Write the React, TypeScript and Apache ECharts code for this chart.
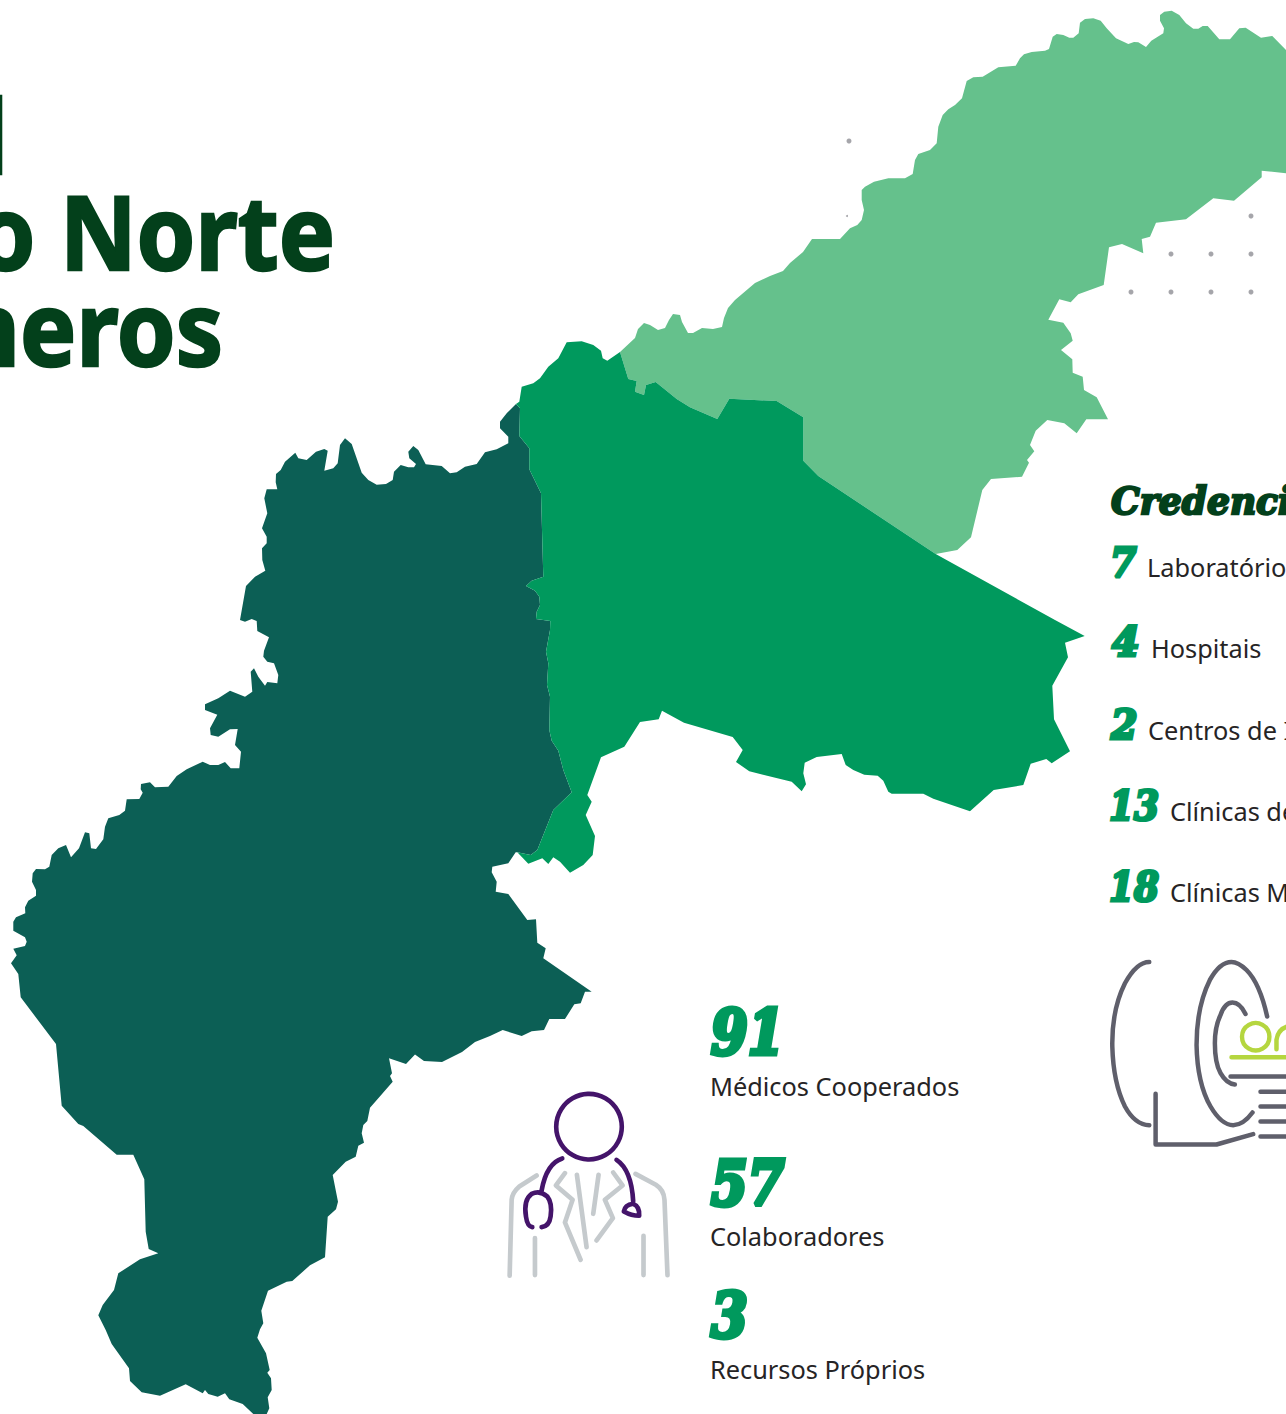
import React, { useEffect, useRef } from "react";
import * as echarts from "echarts";

const W = 1286;
const H = 1414;

// Region outlines (x, y from the top-left corner)
const lightOutline: number[][] = [
  [620,352],[635,338],[638,329],[644,323],[650,325],[658,330],[665,328],[669,320],[673,314],[680,315],[682,322],[688,333],[693,333],[702,328],[713,329],[722,327],[724,318],[728,308],[735,300],[755,283],[770,276],[783,271],[790,263],[803,252],[812,239],[840,239],
  [850,228.3],[857.3,225],[861.7,220],[864,210],[861.7,200],[861.7,190],[865,186.7],[874,181.7],[888.3,178.3],[905,178.3],[912.7,174],[915,160],[918.3,154],[930,150],[936.7,143.3],[938.3,126.7],[942.7,115],[948.3,109.3],[955,105],[962,98.3],[966.7,81],[973.3,77.3],[982.7,76.7],[998.3,67.3],[1015.7,65.7],[1020,58.3],[1024,54.3],[1031.7,52],[1045,50.7],[1049,49],[1052.7,36.7],[1056.7,34],[1063.3,35],[1069.3,37.7],[1073.3,37.7],[1078.7,33.3],[1080,22.7],[1085,19],[1093.3,18.3],[1100.7,20.7],[1106.7,28.3],[1116,38.3],[1128.3,44],[1134,42],[1138.3,42.3],[1146,47],[1151.3,40.7],[1163.3,33.3],[1164,28.3],[1160,20.7],[1160,15],[1164.3,11.7],[1171.7,10.7],[1179.3,15],[1186,23.3],[1193.3,28.7],[1198.3,28.7],[1202.7,26],[1207.7,26],[1219.3,39.3],[1230,39.3],[1239.3,28.3],[1245.7,27.7],[1261,37.7],[1272.3,36],[1286,50],[1300,64],
  [1300,175],[1286,173.3],[1261.7,170.7],[1261.7,177.3],[1234,200.7],[1213.3,198.3],[1186,219.3],[1156,222.7],[1150,236.7],[1141.7,239],[1143.3,253.3],[1122,244],[1109,247.3],[1103.7,285],[1078.3,294.3],[1070.7,302.3],[1059.3,299.3],[1048.3,319.7],[1063.3,322.7],[1070.7,333.3],[1072.7,340.7],[1061,350],[1072.3,359.3],[1072.7,372.7],[1082.7,376.7],[1084,390],[1096.7,397.3],[1108,419.3],[1086.3,419.3],[1076.7,433.3],[1064.3,423.3],[1047.3,420],[1035.7,430.7],[1030,445],[1034.3,451.3],[1027,460],[1029,462.7],[1022,476.7],[991,479],[982.3,490],[971,537.3],[957.3,550],[935.7,554],
  [818.3,476],[803.3,460.7],[803.3,417.3],[776.7,401],[729.3,398.7],[717.3,419],[690,407.3],[676.7,399],[655.7,382],[646,385],[644,395],[635,391.7],[636.7,381],[628.3,379],
];

const greenOutline: number[][] = [
  [516,404],[519.3,401.7],[521.7,386.7],[533.3,383.3],[540,378.3],[548.3,366.7],[558.3,358.3],[566.7,342.3],[581.7,341.3],[593.3,345],[601,350.7],[602.7,358.3],[607.3,360.7],[620,352],[628.3,379],[636.7,381],[635,391.7],[644,395],[646,385],[655.7,382],[676.7,399],[690,407.3],[717.3,419],[729.3,398.7],[776.7,401],[803.3,417.3],[803.3,460.7],[818.3,476],[935.7,554],
  [1055,620],[1084.7,636],[1065,642.7],[1068,657.3],[1052.3,685.7],[1054,719.3],[1070,751.3],[1051.7,763.3],[1046.3,759],[1030.7,763.7],[1023.3,785],[993.7,790],[970,811.3],[933.3,798.7],[923.3,793.7],[891.7,793.7],[888.3,791.7],[883.3,780.7],[877.7,775.7],[864.3,774.7],[853.3,770],[845.7,765],[841.7,754],[816.7,757],[804.7,762.7],[803.3,773.3],[806,784.3],[801.7,791.3],[791.7,781.7],[749.3,771.3],[736,762],[742.7,750],[732.7,737],[684,722.7],[662,710.7],[658.7,719.3],[640,722],[624.3,746.7],[601,757.3],[587.3,795],[591.7,801.7],[585.7,815],[595,836],[592.7,855],[583.3,865],[570,872.7],[560,861.7],[553.3,857.3],[548.3,864],[542.3,858.3],[528.3,863.7],[517.3,852.3],
  [530.7,855],[537.3,850],[553.3,810],[571.7,792.3],[563.3,770],[558.3,750.7],[551.7,740.7],[549.3,730],[550,696.7],[547,685],[548.3,663.3],[546,651.7],[550,630],[550.3,621],[536,619],[536.7,611.7],[540,605],[539.3,596.7],[535,590.7],[526,586],[531.7,580.7],[543.3,576.7],[541,493.3],[529.3,469.3],[529.3,448.3],[519.3,436],[520,408.3],
];

const tealOutline: number[][] = [
  [516,404],[506.7,413.3],[500,421.7],[500,428.3],[508.3,436.7],[508.3,443.3],[496.7,449.3],[485,452.3],[476.7,464],[465,466.7],[456.7,472.3],[450,473.3],[441.7,466],[425.7,464.3],[418.3,450],[413.3,446],[408.3,451.7],[409.3,458.3],[416,464],[414,467.3],[408.3,467.3],[400.7,465],[394,471.7],[392.7,480],[386,484],[376.7,484.7],[368.3,480],[361.7,472.7],[351.7,444],[345,438.3],[340,445],[337.7,463.3],[333.3,468.3],[324.3,470.7],[327.7,450.7],[324.3,449],[316,451.7],[306.7,460],[298.3,458.3],[295.3,452.7],[285,461.7],[280.7,470],[276,474],[275.7,482.3],[277.3,489.3],[266.7,489.3],[264.3,498.3],[267.3,513.3],[262,528.3],[266.7,536.7],[266.7,543.3],[262,548.3],[262.3,560],[265.3,570.7],[255,576.7],[246,586],[240,620],[245,621.7],[251.7,619],[256.7,621],[257.3,631],[269,637.3],[264,650.7],[263.3,656.7],[267.3,661.7],[274,663.3],[278.3,675],[277.3,683.3],[267.3,682],[265,685.7],[258.3,676.7],[254,668.3],[250.7,671.7],[252.3,691.7],[245,696.7],[230,690.7],[218.3,698.3],[205,704.3],[205,710],[217.3,714.7],[210,728.3],[210.7,735],[218.3,736.7],[230,729.3],[237.7,729],[235,745],[241,751.7],[239.3,768.3],[230.7,768.3],[225,762],[218.3,765],[210,765],[202.7,761.7],[186.7,769.3],[176.7,776],[168.3,786.7],[155,787.3],[150,782.3],[141,784],[140.7,789.3],[142.7,792.7],[139.3,799],[126.7,799.3],[125,810.7],[119.3,815],[108.3,818.3],[105,826.7],[103.3,839.3],[96,849],[91,848.3],[89.3,833.3],[85,832.3],[79,848.3],[71,857.3],[66,845],[58.3,848.3],[51.7,855],[49.3,866.7],[45,869.3],[36,869],[32.7,873.3],[32,881.7],[36,890],[36,895.7],[28.3,900.7],[25,907.3],[25.3,913.3],[16,917.3],[13.3,921.7],[13.3,930.7],[25,937.3],[26.7,941.7],[25,946],[13.3,948.7],[16.7,955.3],[11,963.3],[18.3,974],[20.7,997.3],[56,1044],[61.7,1105.7],[78.3,1124],[83.3,1126],[116.7,1154.7],[133.3,1154.7],[144.3,1179.3],[145.7,1231.7],[148.7,1249],[158.3,1253.3],[140,1259.3],[118.3,1273.3],[114,1290],[102.7,1305],[98.3,1315.3],[105.7,1330],[111.7,1344],[129,1368.3],[130,1381],[141.7,1392.3],[160,1395.7],[185.7,1384.3],[202.7,1393.3],[205,1390],[208.3,1394],[217.7,1396.7],[225,1393.3],[229.3,1399.3],[242.7,1404],[253.3,1414],[255,1425],[266,1425],[266.7,1414],[269.3,1408.3],[267.7,1397.3],[271.7,1390],[271,1378.3],[267.3,1372.7],[269.7,1370],[266,1353.3],[257.3,1337.7],[260,1329.3],[263.3,1323.3],[261.3,1310.7],[268,1290.7],[286.7,1281.7],[292.3,1281],[310,1265.3],[325,1257.3],[327.7,1216.7],[336,1209.3],[338,1201.7],[332.7,1175],[345.7,1161.7],[355.7,1156.7],[358.3,1145.7],[364,1142.7],[361.7,1133.3],[363.3,1125],[367.3,1121],[370,1107.7],[392.7,1081.7],[390,1076],[392,1073.3],[389,1058.3],[406,1064],[415,1054.5],[424,1061],[442,1062],[462,1052],[475,1042],[490,1036],[502.7,1030],[521.7,1036],[531.7,1031.3],[544,1030],[549.3,1019],[565,1019],[574.3,1004.3],[580.7,1003.3],[585,991.7],[591.7,991.7],[543.3,958.3],[545.7,948.3],[537.3,942.7],[536,919.3],[527.3,920],[508.3,894],[495.7,891.7],[496.7,881.7],[491.7,872.3],[492.3,866.7],[508.3,863.3],[515.7,852.3],[517.3,852.3],
  [530.7,855],[537.3,850],[553.3,810],[571.7,792.3],[563.3,770],[558.3,750.7],[551.7,740.7],[549.3,730],[550,696.7],[547,685],[548.3,663.3],[546,651.7],[550,630],[550.3,621],[536,619],[536.7,611.7],[540,605],[539.3,596.7],[535,590.7],[526,586],[531.7,580.7],[543.3,576.7],[541,493.3],[529.3,469.3],[529.3,448.3],[519.3,436],[520,408.3],
];

const regionNames = ["Light", "Green", "Teal"];
const regionColors = ["#65c18c", "#00995d", "#0c5f55"];

const dotPoints: number[][] = [
  [849,141,5],[847,216,2],[1251,216,5],[1171,254,5],[1211,254,5],[1251,254,5],[1131,292,5],[1171,292,5],[1211,292,5],[1251,292,5],
];

// Title lines
const titleLines = ["Regional", "do Norte", "em Números"];

// Left block
const statValues = ["91", "57", "3"];
const statLabels = ["Médicos Cooperados", "Colaboradores", "Recursos Próprios"];

// Right block
const credHeading = "Credenciados";
const credValues = ["7", "4", "2", "13", "18"];
const credLabels = ["Laboratórios", "Hospitais", "Centros de Imagem", "Clínicas de Especialidades", "Clínicas Médicas"];

const GREY_LINES = "M59 828 L65 600 Q67 578 88 560 L140 527 M135 715 L135 826 M437 522 L498 555 Q522 570 524 600 L533 826 M461 708 L461 826 M225 520 L198 557 L248 600 L225 668 L272 780 M261 525 L290 742 M326 525 L310 642 M370 518 L398 557 L345 600 L369 655 L320 722";
const PURPLE_LINES = "M217 476 Q170 490 155 572 M127 682 Q112 680 108 650 Q100 600 125 582 Q150 570 172 590 Q188 610 182 650 Q178 680 155 682 M380 480 Q425 510 430 605 M402 635 Q405 615 430 612 Q450 620 448 648 Q425 648 402 635 Z";
const MRI_LINES = "M178 66 Q140 66 105 130 Q65 210 67 320 Q70 430 105 500 Q135 555 178 556 M532 230 Q510 130 470 90 Q445 66 425 66 Q390 66 360 120 Q320 200 320 315 Q322 430 362 500 Q395 556 430 556 Q460 556 488 518 M467 222 Q450 188 428 188 Q405 188 392 225 Q375 260 375 310 Q375 370 392 400 Q410 432 435 434 M197 462 L197 614 L380 614 L490 583 M422 410 L640 410 M512 456 L640 456 M512 500 L640 500 M512 545 L640 545 M512 590 L640 590";
const LIME_LINES = "M425 352 L640 352 M560 328 L560 300 Q565 265 600 258 Q625 258 640 290";

echarts.graphic.registerShape("docGrey", echarts.graphic.extendPath(GREY_LINES, {}));
echarts.graphic.registerShape("docPurple", echarts.graphic.extendPath(PURPLE_LINES, {}));
echarts.graphic.registerShape("mriGrey", echarts.graphic.extendPath(MRI_LINES, {}));
echarts.graphic.registerShape("mriLime", echarts.graphic.extendPath(LIME_LINES, {}));

const toGeo = (pts: number[][]) => {
  const ring = pts.map(([x, y]) => [x, H - y]);
  ring.push(ring[0]);
  return ring;
};

const geoJson = {
  type: "FeatureCollection",
  features: [lightOutline, tealOutline, greenOutline].map((o, i) => ({
    type: "Feature",
    properties: { name: ["Light", "Teal", "Green"][i] },
    geometry: { type: "Polygon", coordinates: [toGeo(o)] },
  })),
};

const BODY = "Noto Sans";
const SLAB = "DejaVu Serif";

function bodyText(text: string, x: number, baseline: number, scaleX = 0.975): any {
  const size = 26;
  return {
    type: "text", x, y: baseline - 0.388 * size, scaleX, silent: true,
    style: { text, fill: "#262425", font: `400 ${size}px "${BODY}"`, verticalAlign: "middle", align: "left" },
  };
}

function slabText(text: string, x: number, baseline: number, size: number, scaleX: number, fill: string, bold: number): any {
  return {
    type: "text", x, y: baseline - 0.351 * size, scaleX, silent: true,
    style: { text, fill, stroke: fill, lineWidth: bold, font: `italic 700 ${size}px "${SLAB}"`, verticalAlign: "middle", align: "left" },
  };
}

function titleText(text: string, right: number, baseline: number): any {
  const size = 102;
  return {
    type: "text", x: right, y: baseline - 0.388 * size, scaleX: 0.925, silent: true,
    style: { text, fill: "#03401b", stroke: "#03401b", lineWidth: 2.5, font: `700 ${size}px "${BODY}"`, verticalAlign: "middle", align: "right" },
  };
}

const iconStyle = (stroke: string, lineWidth: number) => ({ fill: "none", stroke, lineWidth, lineCap: "round", lineJoin: "round" });

export default function App() {
  const ref = useRef<HTMLDivElement>(null);
  useEffect(() => {
    document.body.style.margin = "0";
    document.body.style.background = "#ffffff";
    echarts.registerMap("regions", geoJson as any);
    const chart = echarts.init(ref.current!, undefined, { renderer: "svg" });

    const statBaselines = [1054, 1205, 1337];
    const statLabelBaselines = [1096, 1246, 1379];
    const credBaselines = [576.5, 656.5, 738.5, 820.5, 901.5];
    const credNumScale = [0.93, 0.97, 0.93, 0.88, 0.88];
    const credNumX = [1110, 1112, 1111, 1109, 1109];
    const credX = [1147, 1151, 1148, 1170, 1170];
    const credLabelBaselines = [577, 658, 740, 821, 902];

    chart.setOption({
      animation: false,
      backgroundColor: "#ffffff",
      geo: {
        map: "regions",
        roam: false,
        silent: true,
        left: 0, top: 0, width: W, height: H,
        aspectScale: 1,
        boundingCoords: [[0, H], [W, 0]],
        label: { show: false },
        itemStyle: { borderWidth: 0, areaColor: regionColors[0] },
        emphasis: { disabled: true },
        regions: regionNames.map((name, i) => ({ name, itemStyle: { areaColor: regionColors[i], borderWidth: 0 } })),
      },
      series: [{
        type: "scatter",
        coordinateSystem: "geo",
        silent: true,
        symbolSize: (v: number[]) => v[2],
        itemStyle: { color: "#8f8e95" },
        data: dotPoints.map(([x, y, s]) => [x, H - y, s]),
      }],
      graphic: { elements: [
        titleText(titleLines[0], 8, 174),
        titleText(titleLines[1], 335, 270),
        titleText(titleLines[2], 223, 366),
        ...statValues.map((v, i) => slabText(v, 711, statBaselines[i], 62, 0.85, "#00995d", 5)),
        ...statLabels.map((t, i) => bodyText(t, 710, statLabelBaselines[i])),
        slabText(credHeading, 1111, 514, 38, 0.95, "#03401b", 2.4),
        ...credValues.map((v, i) => slabText(v, credNumX[i], credBaselines[i], 41, credNumScale[i], "#00995d", 3.2)),
        ...credLabels.map((t, i) => bodyText(t, credX[i], credLabelBaselines[i])),
        { type: "docGrey", x: 490, y: 1000, scaleX: 1 / 3, scaleY: 1 / 3, silent: true, style: iconStyle("#c5cacd", 14) },
        { type: "docPurple", x: 490, y: 1000, scaleX: 1 / 3, scaleY: 1 / 3, silent: true, style: iconStyle("#44146a", 14) },
        { type: "circle", x: 589, y: 1126.7, silent: true, shape: { r: 32.8 }, style: { fill: "none", stroke: "#44146a", lineWidth: 4.6 } },
        { type: "mriGrey", x: 1090, y: 940, scaleX: 1 / 3, scaleY: 1 / 3, silent: true, style: iconStyle("#5f5f6b", 13.5) },
        { type: "mriLime", x: 1090, y: 940, scaleX: 1 / 3, scaleY: 1 / 3, silent: true, style: iconStyle("#b5d63f", 13.5) },
        { type: "circle", x: 1255.7, y: 1036.7, silent: true, shape: { r: 13.7 }, style: { fill: "none", stroke: "#b5d63f", lineWidth: 4.4 } },
      ] },
    });
    return () => chart.dispose();
  }, []);
  return <div ref={ref} style={{ width: W, height: H }} />;
}
